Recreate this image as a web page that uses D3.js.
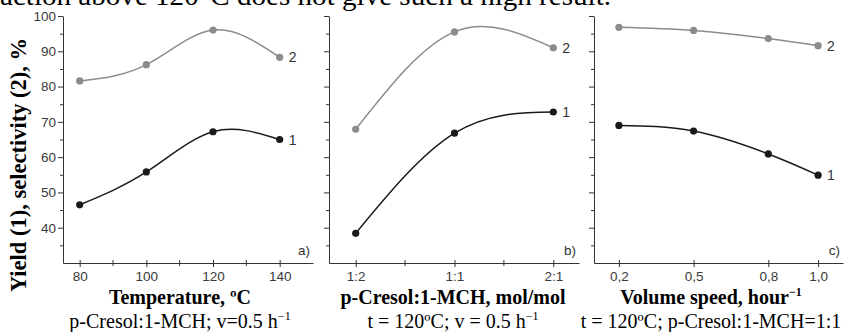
<!DOCTYPE html>
<html>
<head>
<meta charset="utf-8">
<script src="https://cdn.jsdelivr.net/npm/d3@7"></script>
<style>
  body { margin: 0; background: #fff; }
  svg { display: block; }
  .tick text { font-family: "Liberation Sans", Arial, sans-serif; font-size: 13.5px; fill: #3a3a3a; }
  .domain, .tick line { stroke: #333; }
</style>
</head>
<body>
<svg id="chart" width="844" height="332"></svg>
<script>
// panel a: temperature
var tempX = [80, 100, 120, 140];
var tempYield = [46.5, 55.8, 67.2, 65.0];
var tempSel = [81.6, 86.2, 96.0, 88.3];

// panel b: molar ratio
var ratioLabels = ["1:2", "1:1", "2:1"];
var ratioYield = [38.4, 66.8, 72.8];
var ratioSel = [67.9, 95.5, 91.0];

// panel c: volume speed
var speedX = [0.2, 0.5, 0.8, 1.0];
var speedLabels = ["0,2", "0,5", "0,8", "1,0"];
var speedYield = [69.0, 67.4, 60.9, 54.9];
var speedSel = [96.8, 95.9, 93.6, 91.6];

var yTicks = [40, 50, 60, 70, 80, 90, 100];

var svg = d3.select("#chart"),
    plotTop = 16, plotBottom = 263,
    grayCol = "#8b8b8b", blackCol = "#1a1a1a",
    serif = "'Liberation Serif', 'Times New Roman', serif";

var y = d3.scaleLinear().domain([30, 100]).range([plotBottom, plotTop]);

// cut off caption line at the top
svg.append("text")
    .attr("x", 0).attr("y", 5)
    .attr("textLength", 611).attr("lengthAdjust", "spacingAndGlyphs")
    .style("font-family", serif)
    .style("font-size", "27px")
    .text("action above 120\u00b0C does not give such a high result.");

svg.append("text")
    .attr("transform", "translate(18,165) rotate(-90)")
    .attr("text-anchor", "middle")
    .attr("dominant-baseline", "central")
    .style("font-family", serif)
    .style("font-weight", "bold")
    .style("font-size", "22.5px")
    .text("Yield (1), selectivity (2), %");

var panels = [
  { x0: 63, x1: 313, domain: [75, 150], xs: tempX, ticks: tempX, labels: tempX.map(String),
    minor: [90, 110, 130], yieldV: tempYield, selV: tempSel, letter: "a)", showY: true, cx: 180,
    title: "Temperature, \u00baC", sub: ["p-Cresol:1-MCH; v=0.5 h", "\u22121"] },
  { x0: 329, x1: 579, domain: [-0.27, 2.26], xs: [0, 1, 2], ticks: [0, 1, 2], labels: ratioLabels,
    minor: [0.5, 1.5], yieldV: ratioYield, selV: ratioSel, letter: "b)", showY: false, cx: 453,
    title: "p-Cresol:1-MCH, mol/mol", sub: ["t = 120\u00baC; v = 0.5 h", "\u22121"] },
  { x0: 594, x1: 843, domain: [0.1, 1.1], xs: speedX, ticks: speedX, labels: speedLabels,
    minor: [], yieldV: speedYield, selV: speedSel, letter: "c)", showY: false, cx: 711,
    title: "Volume speed, hour", titleSup: "\u22121", sub: ["t = 120\u00baC; p-Cresol:1-MCH=1:1", ""] }
];

panels.forEach(function(p) {
  var x = d3.scaleLinear().domain(p.domain).range([p.x0, p.x1]);
  var g = svg.append("g");

  // y axis with minor ticks
  var yAxis = d3.axisLeft(y).tickValues(d3.range(30, 101, 5)).tickSize(4).tickSizeOuter(0)
      .tickFormat(function(d) { return (p.showY && yTicks.indexOf(d) >= 0) ? d : ""; });
  var ya = g.append("g").attr("transform", "translate(" + p.x0 + ",0)").call(yAxis);
  ya.selectAll(".tick line").attr("x2", function(d) { return d % 10 === 0 ? -5 : -3; });
  ya.selectAll(".tick text").attr("x", -7);
  ya.select(".tick:first-of-type line").remove();

  // x axis
  var xAxis = d3.axisBottom(x).tickValues(p.ticks).tickSize(4).tickSizeOuter(0)
      .tickFormat(function(d, i) { return p.labels[i]; });
  var xa = g.append("g").attr("transform", "translate(0," + plotBottom + ")").call(xAxis);
  xa.selectAll(".tick text").attr("y", 8);
  xa.selectAll(".tick line").attr("y2", -3).attr("y1", 4);
  g.selectAll(".minor").data(p.minor).enter().append("line")
      .attr("x1", function(d) { return x(d); }).attr("x2", function(d) { return x(d); })
      .attr("y1", plotBottom - 3).attr("y2", plotBottom + 3).attr("stroke", "#333");

  var line = d3.line().x(function(d) { return x(d[0]); }).y(function(d) { return y(d[1]); })
      .curve(d3.curveNatural);

  [[p.selV, grayCol, "2"], [p.yieldV, blackCol, "1"]].forEach(function(s) {
    var pts = p.xs.map(function(v, i) { return [v, s[0][i]]; });
    g.append("path").datum(pts).attr("d", line)
        .attr("fill", "none").attr("stroke", s[1]).attr("stroke-width", 1.5);
    g.selectAll(null).data(pts).enter().append("circle")
        .attr("cx", function(d) { return x(d[0]); })
        .attr("cy", function(d) { return y(d[1]); })
        .attr("r", 3.6).attr("fill", s[1]);
    var last = pts[pts.length - 1];
    g.append("text")
        .attr("x", x(last[0]) + 9).attr("y", y(last[1]))
        .attr("dominant-baseline", "central")
        .style("font-family", "'Liberation Sans', Arial, sans-serif")
        .style("font-size", "14px").attr("fill", "#333")
        .text(s[2]);
  });

  g.append("text")
      .attr("x", p.x1 - 3).attr("y", plotBottom - 8)
      .attr("text-anchor", "end")
      .style("font-family", "'Liberation Sans', Arial, sans-serif")
      .style("font-size", "13.5px").attr("fill", "#333")
      .text(p.letter);

  var t = g.append("text")
      .attr("x", p.cx).attr("y", 304)
      .attr("text-anchor", "middle")
      .style("font-family", serif)
      .style("font-weight", "bold").style("font-size", "20px")
      .text(p.title);
  if (p.titleSup) t.append("tspan").attr("dy", -8).style("font-size", "12px").text(p.titleSup);

  var st = g.append("text")
      .attr("x", p.cx).attr("y", 328)
      .attr("text-anchor", "middle")
      .style("font-family", serif)
      .style("font-size", "20px")
      .text(p.sub[0]);
  if (p.sub[1]) st.append("tspan").attr("dy", -8).style("font-size", "12px").text(p.sub[1]);
});
</script>
</body>
</html>
